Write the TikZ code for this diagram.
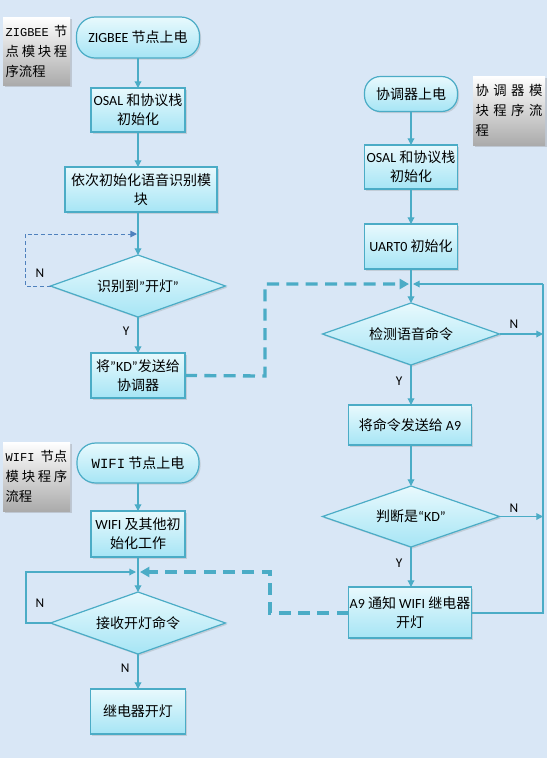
\documentclass[tikz,border=0pt]{standalone}
\usepackage{fontspec}
\setmainfont{Noto Sans CJK SC}
\newfontfamily\lat{Carlito}
\newfontfamily\mono{Liberation Mono}
\usetikzlibrary{arrows.meta,shapes.geometric,shadows}
\definecolor{bgc}{HTML}{D9E7F6}
\definecolor{lnc}{HTML}{4BACC6}
\definecolor{dkc}{HTML}{4F81BD}
\definecolor{ftop}{HTML}{E8F9FD}
\definecolor{fbot}{HTML}{A6E5F5}
\begin{document}
\begin{tikzpicture}[x=0.75pt,y=-0.75pt,
  base/.style={draw=lnc, line width=0.9pt, top color=ftop, bottom color=fbot,
    inner sep=0pt, outer sep=0pt, align=center,
    font=\fontsize{10.5}{14}\selectfont,
    drop shadow={shadow xshift=1.2pt,shadow yshift=-1.2pt,opacity=0.25}},
  proc/.style={base, rectangle},
  term/.style={base, rectangle, rounded corners=14pt},
  dec/.style={base, diamond, shape aspect=2.85},
  lab/.style={rectangle, top color=white, bottom color=black!33, inner sep=2pt,
    align=left, font=\fontsize{10}{15}\selectfont,
    drop shadow={shadow xshift=1.2pt,shadow yshift=-1.2pt,opacity=0.3}},
  arr/.style={draw=lnc, line width=0.9pt, -{Triangle[width=5pt,length=5pt]}},
  conn/.style={draw=lnc, line width=0.9pt},
  dashbig/.style={draw=lnc, line width=2.5pt, dash pattern=on 9pt off 5.5pt,
    -{Triangle[width=7.5pt,length=7pt]}},
  dashthin/.style={draw=dkc, line width=0.7pt, dash pattern=on 3pt off 2pt,
    -{Triangle[width=5pt,length=5pt]}},
  yn/.style={font=\lat\fontsize{10}{12}\selectfont, inner sep=0pt}
]
\fill[bgc] (0,0) rectangle (547,758);
\useasboundingbox (0,0) rectangle (547,758);

% ---------- ZIGBEE ----------
\node[lab, text width=46.25pt, minimum height=51pt] (zlab) at (36.5,51)
  {{\mono\fontsize{9}{15}\selectfont ZIGBEE}\hfill 节\\点\hfill 模\hfill 块\hfill 程\\序流程};
\node[term, minimum width=92.25pt, minimum height=30.75pt] (zt) at (138,37.5)
  {{\lat ZIGBEE} 节点上电};
\node[proc, minimum width=70.5pt, minimum height=33pt] (zb1) at (138,110)
  {{\lat OSAL} 和协议栈\\初始化};
\node[proc, minimum width=114pt, minimum height=33.75pt] (zb2) at (141,189.5)
  {依次初始化语音识别模\\块};
\node[dec, minimum width=131.25pt, minimum height=46.5pt] (zd) at (138,286)
  {识别到{\lat ”}开灯{\lat ”}};
\node[proc, minimum width=70.5pt, minimum height=33.75pt] (zb3) at (138,375.5)
  {将{\lat ”KD”}发送给\\协调器};
\coordinate (zn1) at (25,286);
\coordinate (zn2) at (25,234);
\coordinate (zn3) at (137,234);
\coordinate (zk1) at (265,376);
\coordinate (zk2) at (265,284);

% ---------- Coordinator ----------
\node[term, minimum width=69.75pt, minimum height=26.25pt, rounded corners=12pt] (ct) at (411,94)
  {协调器上电};
\node[lab, text width=50pt, minimum height=51.75pt] (clab) at (509,110.5)
  {协\hfill 调\hfill 器\hfill 模\\块\hfill 程\hfill 序\hfill 流\\程};
\node[proc, minimum width=69.75pt, minimum height=33pt] (cb1) at (411,167)
  {{\lat OSAL} 和协议栈\\初始化};
\node[proc, minimum width=69.75pt, minimum height=33.75pt] (cb2) at (411,246.5)
  {{\lat UART0} 初始化};
\coordinate (cm) at (411,284);
\node[dec, minimum width=132.75pt, minimum height=46.5pt] (cd1) at (411,334)
  {检测语音命令};
\node[proc, minimum width=92.25pt, minimum height=30pt] (cb3) at (410,425)
  {将命令发送给 {\lat A9}};
\node[dec, minimum width=132.75pt, minimum height=45.75pt] (cd2) at (411,516.5)
  {判断是{\lat “KD”}};
\node[proc, minimum width=92.25pt, minimum height=38.25pt] (cb4) at (410,612.5)
  {{\lat A9} 通知 {\lat WIFI} 继电器\\开灯};
\coordinate (cr1) at (543,613);
\coordinate (cr2) at (543,284);
\coordinate (cn1) at (543,334);
\coordinate (cn2) at (543,516.5);
\coordinate (ck1) at (270,613);
\coordinate (ck2) at (270,572);

% ---------- WIFI ----------
\node[lab, text width=46.25pt, minimum height=51.75pt] (wlab) at (36.5,476.5)
  {{\mono\fontsize{9}{15}\selectfont WIFI}\hfill 节点\\模\hfill 块\hfill 程\hfill 序\\流程};
\node[term, minimum width=91.5pt, minimum height=30pt] (wt) at (138,463)
  {{\mono WIFI} 节点上电};
\node[proc, minimum width=70.5pt, minimum height=34.5pt] (wb1) at (138,534)
  {{\lat WIFI} 及其他初\\始化工作};
\coordinate (wm) at (138,572);
\node[dec, minimum width=131.25pt, minimum height=46.5pt] (wd) at (138,623)
  {接收开灯命令};
\node[proc, minimum width=71.25pt, minimum height=33.75pt] (wb2) at (138,711.5)
  {继电器开灯};
\coordinate (wn1) at (26,623);
\coordinate (wn2) at (26,572);
\coordinate (wn3) at (136,572);

% ---------- connectors: ZIGBEE ----------
\draw[arr] (zt) -- (zb1);
\draw[arr] (zb1.south) -- (zb1.south |- zb2.north);
\draw[arr] (zb1.south |- zb2.south) -- (zd.north);
\draw[arr] (zd) -- node[yn, left=6pt, pos=0.4] {Y} (zb3);
\draw[dashthin] (zd.west) -- (zn1) -- (zn2) -- (zn3);
\node[yn] at (40,273) {N};
\draw[dashbig] (zb3.east) -- (zk1) -- (zk2) -- ([xshift=-1.5pt]cm);

% ---------- connectors: Coordinator ----------
\draw[arr] (ct) -- (cb1);
\draw[arr] (cb1) -- (cb2);
\draw[arr] (cb2) -- (cd1);
\draw[arr] (cd1.east) -- (cn1);
\node[yn] at (514,324) {N};
\draw[arr] (cd1.south) -- node[yn, left=6pt, pos=0.4] {Y} (cd1.south |- cb3.north);
\draw[arr] (cd1.south |- cb3.south) -- (cd2.north);
\draw[arr] (cd2.east) -- (cn2);
\node[yn] at (514,508) {N};
\draw[arr] (cd2.south) -- node[yn, left=6pt, pos=0.4] {Y} (cd2.south |- cb4.north);
\draw[conn] (cb4.east |- cr1) -- (cr1) -- (cr2);
\draw[arr] (cr2) -- ([xshift=1.5pt]cm);
\draw[dashbig] (cb4.west |- ck1) -- (ck1) -- (ck2) -- ([xshift=1.5pt]wm);

% ---------- connectors: WIFI ----------
\draw[arr] (wt) -- (wb1);
\draw[arr] (wb1) -- (wd);
\draw[arr] (wd) -- node[yn, left=6pt, pos=0.4] {N} (wb2);
\draw[conn, -{Triangle[width=5pt,length=5pt]}] (wd.west) -- (wn1) -- (wn2) -- (wn3);
\node[yn] at (40,603) {N};
\end{tikzpicture}
\end{document}
